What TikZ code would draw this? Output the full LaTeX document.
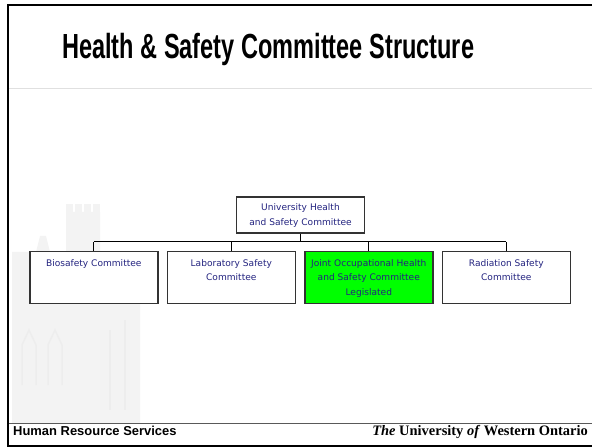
\documentclass[tikz,border=0pt]{standalone}
\usepackage{fontspec}
\setmainfont{Liberation Serif}
\newfontfamily\titlefont[FakeStretch=0.675]{Liberation Sans}
\newfontfamily\footfont{Liberation Sans}
\newfontfamily\boxfont{DejaVu Sans}
\usepackage{tikz}
\definecolor{boxtext}{RGB}{36,36,128}
\definecolor{legis}{RGB}{0,255,0}
\definecolor{ghost}{RGB}{243,243,243}
% committee text sits at the top of each box
\newcommand{\boxlines}[1]{\parbox[c][48bp][t]{126bp}{\centering\vspace{6bp}#1}}

\begin{document}
\begin{tikzpicture}[x=1bp,y=-1bp,node distance=137.5bp,
  unit/.style={draw=black!80,line width=1.6bp,fill=white,inner xsep=1bp,inner ysep=1.8bp,
    minimum width=128bp,text=boxtext,font=\boxfont\fontsize{9.1}{14.5}\selectfont},
  wire/.style={draw=black,line width=1bp}]
\useasboundingbox (0,0) rectangle (592,447);

% faded tower behind the chart
\begin{scope}[fill=ghost]
\fill (12,252) -- (36,252) -- (40,236) -- (46,236) -- (50,252) -- (66,252) -- (66,212)
  -- (100,212) -- (100,300) -- (140,300) -- (140,423) -- (12,423) -- cycle;
\foreach \x in {66,75,84,93} \fill (\x,204) rectangle (\x+7,212);
\end{scope}
\begin{scope}[draw=black!7,line width=1.5bp]
\foreach \x in {22,48} \draw (\x,385) -- (\x,345) -- (\x+7,330) -- (\x+14,345) -- (\x+14,385);
\draw (110,330) -- (110,410) (125,320) -- (125,410);
\end{scope}

% slide frame
\draw[line width=2.5bp] (8,447) -- (8,5) -- (592,5);
\draw[line width=1.5bp] (8,446) -- (592,446);
\draw[black!12] (9,88) -- (592,88);
\draw[black!65,line width=0.8bp] (9,423.5) -- (592,423.5);

\node[anchor=base west,inner sep=0,font=\titlefont\bfseries\fontsize{35}{35}\selectfont] (title) at (62,58.3)
  {Health \& Safety Committee Structure};

% committees
\node[unit,minimum height=36bp,text width=126bp,align=center] (uhsc) at (300.5,215.3)
  {University Health\\and Safety Committee};
\node[unit] (bio) at (93.8,277.5) {\boxlines{Biosafety Committee}};
\node[unit,right of=bio] (lab) {\boxlines{Laboratory Safety\\Committee}};
\node[unit,right of=lab,fill=legis] (joint) {\boxlines{Joint Occupational Health\\and Safety Committee\\Legislated}};
\node[unit,right of=joint] (rad) {\boxlines{Radiation Safety\\Committee}};

\coordinate (bus) at (0,242);
\draw[wire] (uhsc.south) -- (uhsc.south |- bus);
\draw[wire] (bio.north |- bus) -- (rad.north |- bus);
\foreach \c in {bio,lab,joint,rad} \draw[wire] (\c.north) -- (\c.north |- bus);

% footer
\node[anchor=base west,inner sep=0,font=\footfont\bfseries\fontsize{13}{13}\selectfont] (hrs) at (13,435)
  {Human Resource Services};
\node[anchor=base east,inner sep=0,font=\bfseries\fontsize{14.5}{14.5}\selectfont] (uwo) at (588,435)
  {\textit{The} University \textit{of} Western Ontario};
\end{tikzpicture}
\end{document}
